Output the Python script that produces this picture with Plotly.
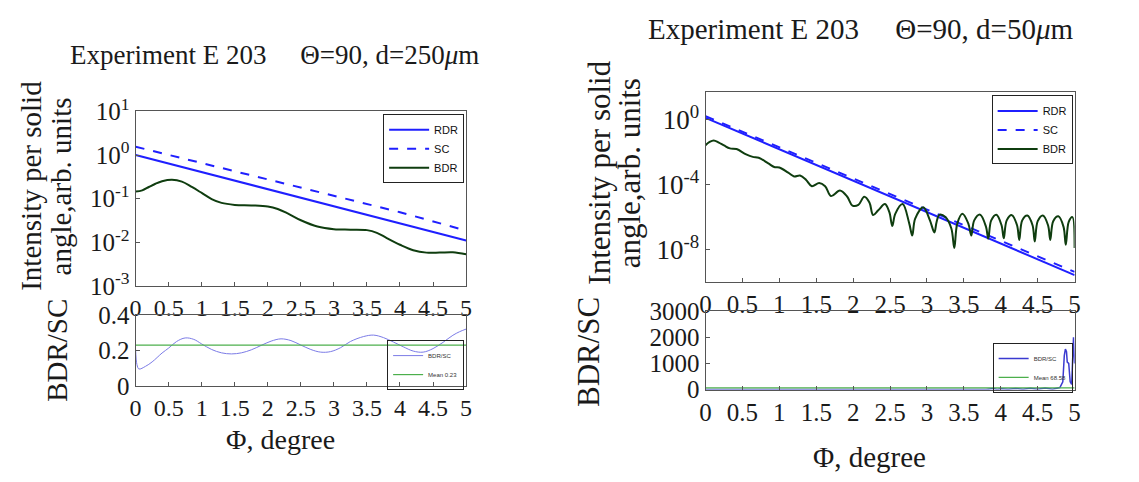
import plotly.graph_objects as go

# ---------------- data: left panel (d = 250 um) ----------------
L_line_x = [0, 1, 2, 3, 4, 5]
L_rdr = [1.00, 0.406, 0.165, 0.067, 0.027, 0.011]
L_sc = [1.55, 0.655, 0.275, 0.117, 0.049, 0.0185]

L_bdr_x = [0, 0.1, 0.2, 0.3, 0.4, 0.55, 0.7, 0.85, 1.0, 1.15, 1.3, 1.5, 1.75, 2.0, 2.15, 2.3,
           2.5, 2.75, 3.0, 3.25, 3.5, 3.65, 3.8, 4.0, 4.2, 4.4, 4.6, 4.8, 5.0]
L_bdr = [0.145, 0.155, 0.185, 0.22, 0.25, 0.27, 0.245, 0.185, 0.135, 0.098, 0.080, 0.072, 0.070,
         0.066, 0.058, 0.046, 0.032, 0.023, 0.020, 0.0195, 0.019, 0.0165, 0.0125, 0.0088,
         0.0066, 0.0058, 0.0058, 0.0059, 0.0053]

L_ratio_x = [0, 0.02, 0.05, 0.15, 0.25, 0.4, 0.5, 0.62, 0.75, 0.88, 1.0, 1.15, 1.3, 1.45, 1.6,
             1.75, 1.9, 2.05, 2.2, 2.35, 2.5, 2.65, 2.8, 2.95, 3.1, 3.25, 3.45, 3.6, 3.75, 3.9,
             4.05, 4.2, 4.35, 4.5, 4.65, 4.8, 4.9, 5.0]
L_ratio = [0.205, 0.12, 0.095, 0.11, 0.135, 0.185, 0.213, 0.25, 0.27, 0.262, 0.236, 0.205, 0.186,
           0.18, 0.186, 0.203, 0.228, 0.252, 0.265, 0.255, 0.23, 0.205, 0.19, 0.193, 0.215, 0.25,
           0.278, 0.286, 0.272, 0.247, 0.22, 0.196, 0.19, 0.21, 0.245, 0.285, 0.305, 0.32]
L_mean = 0.23

# ---------------- data: right panel (d = 50 um) ----------------
R_line_x = [0, 1, 2, 3, 4, 5]
R_rdr = [1.26, 0.0147, 1.7e-4, 2.0e-6, 2.3e-8, 2.75e-10]
R_sc = [1.6, 0.0195, 2.4e-4, 2.9e-6, 3.5e-8, 4.3e-10]

R_bdr_x = [0.0, 0.05, 0.11, 0.18, 0.25, 0.33, 0.42, 0.55, 0.64, 0.72, 0.85, 0.93, 1.0, 1.12,
           1.2, 1.28, 1.36, 1.44, 1.54, 1.62, 1.70, 1.82, 1.92, 1.99, 2.07, 2.15, 2.22, 2.27,
           2.34, 2.43, 2.49, 2.53, 2.57, 2.67, 2.76, 2.80, 2.84, 2.95, 3.04, 3.10, 3.13, 3.17,
           3.25, 3.33, 3.37, 3.41, 3.48, 3.56, 3.60, 3.64, 3.72, 3.80, 3.83, 3.87, 3.94, 4.01,
           4.04, 4.08, 4.15, 4.22, 4.25, 4.29, 4.36, 4.43, 4.46, 4.50, 4.57, 4.64, 4.67, 4.71,
           4.78, 4.85, 4.88, 4.92, 4.97, 5.0]
R_bdr_log = [-1.58, -1.40, -1.29, -1.42, -1.60, -1.78, -1.82, -2.15, -2.30, -2.35, -2.70, -2.92,
             -2.95, -3.27, -3.50, -3.45, -3.70, -4.10, -3.90, -4.10, -4.71, -4.37, -4.75, -5.29,
             -5.25, -4.75, -5.10, -5.87, -5.58, -5.20, -5.70, -6.55, -5.80, -5.20, -6.40, -7.13,
             -6.10, -5.40, -6.20, -6.94, -6.30, -5.85, -6.00, -6.70, -7.90, -6.40, -5.80, -6.40,
             -7.13, -6.20, -5.85, -6.60, -7.32, -6.20, -5.85, -6.50, -7.30, -6.20, -5.88, -6.50,
             -7.40, -6.20, -5.90, -6.50, -7.50, -6.25, -5.90, -6.50, -7.40, -6.25, -5.95, -6.60,
             -7.70, -6.30, -6.00, -7.90]
R_bdr = [10 ** v for v in R_bdr_log]

R_ratio_x = [0, 3.8, 3.9, 3.95, 4.0, 4.1, 4.2, 4.3, 4.4, 4.5, 4.6, 4.7, 4.8, 4.84, 4.86, 4.875,
             4.89, 4.9, 4.92, 4.94, 4.96, 4.975, 4.985, 4.992, 5.0]
R_ratio = [0, 0, 40, 5, 30, 10, 45, 8, 55, 10, 60, 15, 80, 300, 1300, 1550, 1450, 1050, 1000,
           300, 200, 1200, 2000, 1500, 1000]
R_mean = 68.58

x_ticks = [0, 0.5, 1, 1.5, 2, 2.5, 3, 3.5, 4, 4.5, 5]
x_ticktext = ["0", "0.5", "1", "1.5", "2", "2.5", "3", "3.5", "4", "4.5", "5"]
L_yticks = [1e1, 1e0, 1e-1, 1e-2, 1e-3]
L_yticktext = ["10<sup>1</sup>", "10<sup>0</sup>", "10<sup>-1</sup>", "10<sup>-2</sup>", "10<sup>-3</sup>"]
R_yticks = [1e0, 1e-4, 1e-8]
R_yticktext = ["10<sup>0</sup>", "10<sup>-4</sup>", "10<sup>-8</sup>"]

# ---------------- figure ----------------
W, H = 1139, 482
SERIF = "Liberation Serif, Times New Roman, serif"
SANS = "Liberation Sans, Arial, sans-serif"
BLUE = "#1f1fff"
GREEN = "#0f3d0f"
TXT = "#1a1a1a"

fig = go.Figure()

def px(x):
    return x / W

def py(y):
    return 1 - y / H

# Left top
fig.add_trace(go.Scatter(x=L_line_x, y=L_rdr, mode="lines", name="RDR",
                         line=dict(color=BLUE, width=2), xaxis="x", yaxis="y", legend="legend"))
fig.add_trace(go.Scatter(x=L_line_x, y=L_sc, mode="lines", name="SC",
                         line=dict(color=BLUE, width=2, dash="dash"), xaxis="x", yaxis="y", legend="legend"))
fig.add_trace(go.Scatter(x=L_bdr_x, y=L_bdr, mode="lines", name="BDR", line_shape="spline",
                         line=dict(color=GREEN, width=2), xaxis="x", yaxis="y", legend="legend"))
# Left bottom
fig.add_trace(go.Scatter(x=L_ratio_x, y=L_ratio, mode="lines", name="BDR/SC", line_shape="spline",
                         line=dict(color="#7b7be6", width=1), xaxis="x2", yaxis="y2", legend="legend2"))
fig.add_trace(go.Scatter(x=[0, 5], y=[L_mean, L_mean], mode="lines", name="Mean 0.23",
                         line=dict(color="#4caf4c", width=1.2), xaxis="x2", yaxis="y2", legend="legend2"))
# Right top
fig.add_trace(go.Scatter(x=R_line_x, y=R_rdr, mode="lines", name="RDR",
                         line=dict(color=BLUE, width=2), xaxis="x3", yaxis="y3", legend="legend3"))
fig.add_trace(go.Scatter(x=R_line_x, y=R_sc, mode="lines", name="SC",
                         line=dict(color=BLUE, width=2, dash="dash"), xaxis="x3", yaxis="y3", legend="legend3"))
fig.add_trace(go.Scatter(x=R_bdr_x, y=R_bdr, mode="lines", name="BDR", line_shape="spline",
                         line=dict(color=GREEN, width=2), xaxis="x3", yaxis="y3", legend="legend3"))
# Right bottom
fig.add_trace(go.Scatter(x=R_ratio_x, y=R_ratio, mode="lines", name="BDR/SC",
                         line=dict(color="#3a3ad0", width=1.5), xaxis="x4", yaxis="y4", legend="legend4"))
fig.add_trace(go.Scatter(x=[0, 5], y=[R_mean, R_mean], mode="lines", name="Mean 68.58",
                         line=dict(color="#4caf4c", width=1.2), xaxis="x4", yaxis="y4", legend="legend4"))

def axis_common(size):
    return dict(showline=True, linecolor="#555555", linewidth=1, mirror=True,
                ticks="inside", ticklen=4, tickcolor="#555555", showgrid=False, zeroline=False,
                tickfont=dict(family=SERIF, size=size, color=TXT))

LX = [px(131), px(465)]
RX = [px(707), px(1080)]

def xcommon(size):
    return dict(axis_common(size), range=[0, 5], tickvals=x_ticks, ticktext=x_ticktext)

small_legend = dict(xanchor="right", yanchor="top", bgcolor="rgba(255,255,255,0)",
                    bordercolor="#222222", borderwidth=1,
                    font=dict(family=SANS, size=6, color="#333"), tracegroupgap=0, itemwidth=30)
big_legend = dict(xanchor="right", yanchor="top", bgcolor="white",
                  bordercolor="#222222", borderwidth=1,
                  font=dict(family=SANS, size=11, color="#111"), tracegroupgap=0, itemwidth=40)

fig.update_layout(
    width=W, height=H, margin=dict(l=0, r=0, t=0, b=0),
    paper_bgcolor="white", plot_bgcolor="white",
    xaxis=dict(xcommon(24), domain=LX, anchor="y"),
    yaxis=dict(axis_common(25), type="log", domain=[py(287), py(100)], range=[-3, 1],
               tickvals=L_yticks, ticktext=L_yticktext, anchor="x"),
    xaxis2=dict(xcommon(24), domain=LX, anchor="y2"),
    yaxis2=dict(axis_common(25), domain=[py(394), py(318)], range=[0, 0.4],
                tickvals=[0, 0.2, 0.4], ticktext=["0", "0.2", "0.4"], anchor="x2"),
    xaxis3=dict(xcommon(25), domain=RX, anchor="y3"),
    yaxis3=dict(axis_common(27), type="log", domain=[py(283), py(79)], range=[-10, 1.7],
                tickvals=R_yticks, ticktext=R_yticktext, anchor="x3"),
    xaxis4=dict(xcommon(25), domain=RX, anchor="y4"),
    yaxis4=dict(axis_common(25), domain=[py(398), py(314)], range=[0, 3000],
                tickvals=[0, 1000, 2000, 3000], ticktext=["0", "1000", "2000", "3000"], anchor="x4"),
    showlegend=True,
    legend=dict(big_legend, x=px(463), y=py(103)),
    legend2=dict(small_legend, x=px(463), y=py(345)),
    legend3=dict(big_legend, x=px(1078), y=py(83)),
    legend4=dict(small_legend, x=px(1078), y=py(348)),
)

GAP = "\u00a0" * 5
ann_font = dict(family=SERIF, size=29, color=TXT)
ann_font_r = dict(family=SERIF, size=31, color=TXT)
annotations = [
    dict(text="Experiment E 203" + GAP + "\u0398=90, d=250<i>\u03bc</i>m", x=px(271), y=py(40),
         font=dict(family=SERIF, size=27, color=TXT)),
    dict(text="Experiment E 203" + GAP + "\u0398=90, d=50<i>\u03bc</i>m", x=px(864), y=py(12),
         font=dict(family=SERIF, size=29, color=TXT)),
    dict(text="Intensity per solid", x=px(25), y=py(180), textangle=-90, font=ann_font),
    dict(text="angle,arb. units", x=px(56), y=py(180), textangle=-90, font=ann_font),
    dict(text="BDR/SC", x=px(52), y=py(356), textangle=-90, font=ann_font),
    dict(text="Intensity per solid", x=px(600), y=py(166), textangle=-90, font=ann_font_r),
    dict(text="angle,arb. units", x=px(631), y=py(166), textangle=-90, font=ann_font_r),
    dict(text="BDR/SC", x=px(588), y=py(358), textangle=-90, font=ann_font_r),
    dict(text="\u03a6, degree", x=px(277), y=py(451), font=dict(family=SERIF, size=28, color=TXT)),
    dict(text="\u03a6, degree", x=px(873), y=py(470), font=dict(family=SERIF, size=29, color=TXT)),
]
for a in annotations:
    a.update(xref="paper", yref="paper", showarrow=False, xanchor="center", yanchor="middle")
fig.update_layout(annotations=annotations)

fig.write_html("out.html")
